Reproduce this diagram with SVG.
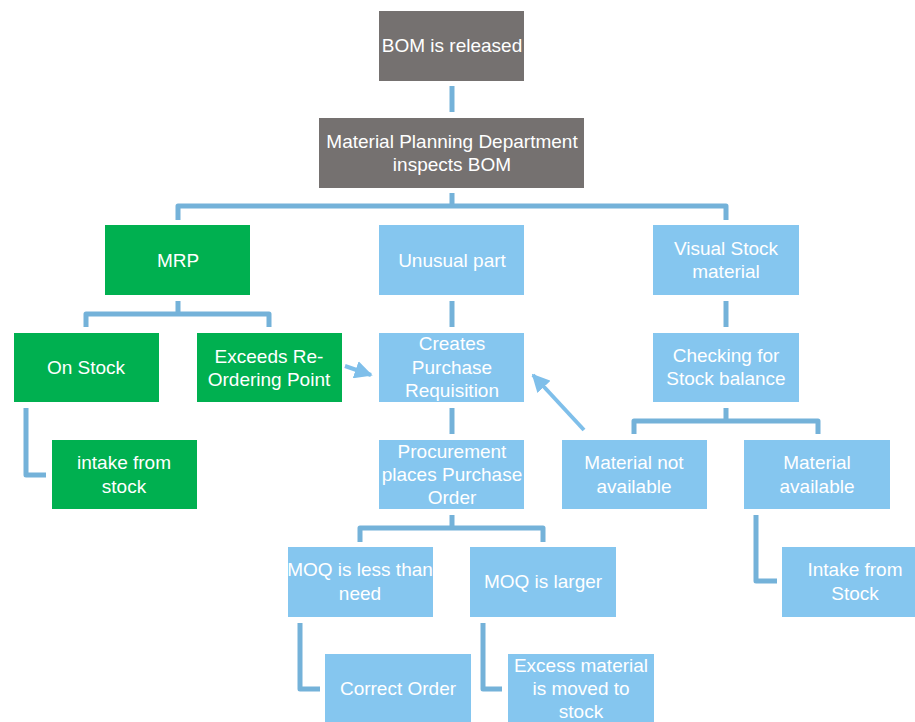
<svg xmlns="http://www.w3.org/2000/svg" width="915" height="722" viewBox="0 0 915 722">
<defs>
<style>
.g{fill:#757170}
.gr{fill:#00b050}
.b{fill:#85c6ef}
text{font-family:"Liberation Sans",Arial,sans-serif;font-size:19px;fill:#ffffff;text-anchor:middle}
.c{fill:none;stroke:#74b2d9;stroke-width:5;stroke-linejoin:round;stroke-linecap:butt}
.a{fill:none;stroke:#7fbfea;stroke-width:4}
</style>
<marker id="ah" viewBox="0 0 10 10" refX="9" refY="5" markerWidth="4.5" markerHeight="4.5" orient="auto" markerUnits="strokeWidth">
<path d="M0,0 L10,5 L0,10 Z" fill="#7fbfea"/>
</marker>
</defs>
<rect width="915" height="722" fill="#ffffff"/>
<g id="connectors">
<path class="c" d="M452,86 V112" stroke="#6aa2c6"/>
<path class="c" d="M452,193 V206 M178,220 V206 H726 V220"/>
<path class="c" d="M178,301 V314 M86,327 V314 H269 V327"/>
<path class="c" d="M452,301 V327"/>
<path class="c" d="M726,301 V327"/>
<path class="c" d="M452,408 V434"/>
<path class="c" d="M726,408 V421 M634,434 V421 H818 V434"/>
<path class="c" d="M26,408 V475 H46"/>
<path class="c" d="M452,515 V528 M360,542 V528 H543 V542"/>
<path class="c" d="M756,515 V581 H777"/>
<path class="c" d="M300,623 V689 H320"/>
<path class="c" d="M483,623 V689 H502"/>
<path class="a" d="M345,366 L371,375" marker-end="url(#ah)"/>
<path class="a" d="M584,430 L533,375" marker-end="url(#ah)"/>
</g>
<g id="bom"><rect class="g" x="379" y="11" width="145" height="70"/><text x="452" y="52">BOM is released</text></g>
<g id="mpd"><rect class="g" x="319" y="118" width="265" height="70"/><text x="452" y="148">Material Planning Department</text><text x="452" y="171">inspects BOM</text></g>
<g id="mrp"><rect class="gr" x="105" y="225" width="145" height="70"/><text x="178" y="267">MRP</text></g>
<g id="unusual"><rect class="b" x="379" y="225" width="145" height="70"/><text x="452" y="267">Unusual part</text></g>
<g id="visual"><rect class="b" x="653" y="225" width="146" height="70"/><text x="726" y="255">Visual Stock</text><text x="726" y="278">material</text></g>
<g id="onstock"><rect class="gr" x="14" y="333" width="145" height="69"/><text x="86" y="374">On Stock</text></g>
<g id="exceeds"><rect class="gr" x="197" y="333" width="145" height="69"/><text x="269" y="363">Exceeds Re-</text><text x="269" y="386">Ordering Point</text></g>
<g id="creates"><rect class="b" x="379" y="333" width="145" height="69"/><text x="452" y="350">Creates</text><text x="452" y="374">Purchase</text><text x="452" y="397">Requisition</text></g>
<g id="checking"><rect class="b" x="653" y="333" width="146" height="69"/><text x="726" y="362">Checking for</text><text x="726" y="385">Stock balance</text></g>
<g id="intake1"><rect class="gr" x="52" y="440" width="145" height="69"/><text x="124" y="469">intake from</text><text x="124" y="493">stock</text></g>
<g id="procurement"><rect class="b" x="379" y="440" width="145" height="69"/><text x="452" y="458">Procurement</text><text x="452" y="481">places Purchase</text><text x="452" y="504">Order</text></g>
<g id="notavail"><rect class="b" x="562" y="440" width="145" height="69"/><text x="634" y="469">Material not</text><text x="634" y="493">available</text></g>
<g id="avail"><rect class="b" x="744" y="440" width="146" height="69"/><text x="817" y="469">Material</text><text x="817" y="493">available</text></g>
<g id="moqless"><rect class="b" x="288" y="547" width="145" height="70"/><text x="360" y="576">MOQ is less than</text><text x="360" y="600">need</text></g>
<g id="moqlarger"><rect class="b" x="470" y="547" width="146" height="70"/><text x="543" y="588">MOQ is larger</text></g>
<g id="intake2"><rect class="b" x="782" y="547" width="133" height="70"/><text x="855" y="576">Intake from</text><text x="855" y="600">Stock</text></g>
<g id="correct"><rect class="b" x="325" y="654" width="146" height="70"/><text x="398" y="695">Correct Order</text></g>
<g id="excess"><rect class="b" x="508" y="654" width="146" height="70"/><text x="581" y="672">Excess material</text><text x="581" y="695">is moved to</text><text x="581" y="718">stock</text></g>
</svg>
